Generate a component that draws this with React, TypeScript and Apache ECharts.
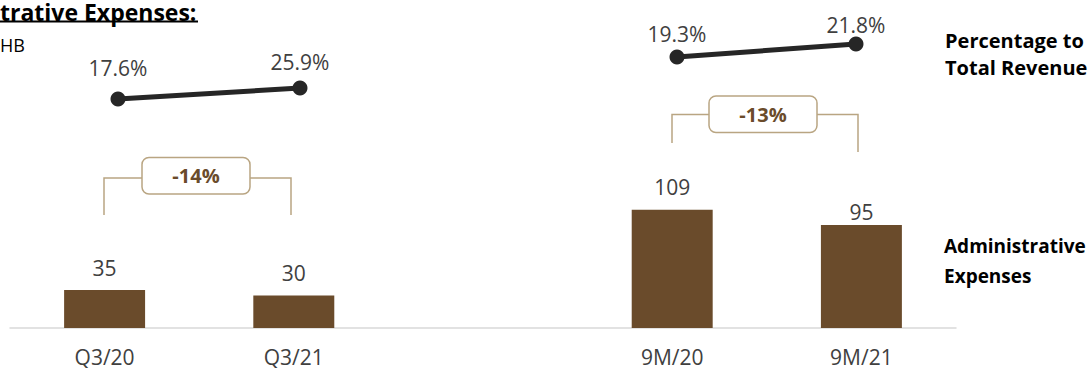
import React, { useEffect, useRef } from "react";
import * as echarts from "echarts";

const categories = ["Q3/20", "Q3/21", "", "9M/20", "9M/21"];
const expenses: (number | null)[] = [35, 30, null, 109, 95];
const q3Categories = ["Q3/20", "Q3/21"];
const q3Percent = [17.6, 25.9];
const nineMCategories = ["9M/20", "9M/21"];
const nineMPercent = [19.3, 21.8];
const changeLabels = ["-14%", "-13%"];

const FONT = "'Open Sans', sans-serif";
const BAR = "#6a4b2b";
const TAN = "#b9a582";
const GREY = "#404040";

export default function App() {
  const ref = useRef<HTMLDivElement>(null);
  useEffect(() => {
    if (!ref.current) return;
    const chart = echarts.init(ref.current, undefined, { renderer: "svg" });
    const bracket = (x1: number, x2: number, yTop: number, yL: number, yR: number, bx: number, bw: number, by: number, bh: number, label: string) => [
      { type: "polyline", shape: { points: [[x1, yL], [x1, yTop], [bx, yTop]] }, style: { stroke: TAN, lineWidth: 1.5, fill: "none" } },
      { type: "polyline", shape: { points: [[bx + bw, yTop], [x2, yTop], [x2, yR]] }, style: { stroke: TAN, lineWidth: 1.5, fill: "none" } },
      { type: "rect", shape: { x: bx, y: by, width: bw, height: bh, r: 7 }, style: { stroke: TAN, lineWidth: 1.5, fill: "#fff" } },
      { type: "text", x: bx + bw / 2, y: by + bh / 2, style: { text: label, font: `bold 20px ${FONT}`, fill: BAR, align: "center", verticalAlign: "middle" } },
    ];
    const lineLabelGap = (series: number, i: number) => (series === 0 ? [13, 8][i] : [5, 1][i]);
    const lineStyleCommon = {
      type: "line",
      symbol: "circle",
      symbolSize: 15,
      lineStyle: { color: "#262626", width: 5 },
      itemStyle: { color: "#262626" },
      label: { show: true, position: "top", formatter: "{c}%", color: GREY, fontSize: 21, fontFamily: FONT },
    };
    chart.setOption({
      animation: false,
      textStyle: { fontFamily: FONT },
      grid: [
        { left: 10, width: 946, top: 111, bottom: 40, outerBoundsMode: "none", containLabel: false },
        { left: 27, width: 364, top: 69.3, height: 39.8, outerBoundsMode: "none" },
        { left: 587.5, width: 358, top: 27.4, height: 52, outerBoundsMode: "none" },
      ],
      xAxis: [
        {
          type: "category", gridIndex: 0, data: categories,
          axisLine: { lineStyle: { color: "#d9d9d9", width: 1.5 } },
          axisTick: { show: false },
          axisLabel: { color: GREY, fontSize: 21, fontFamily: FONT, margin: 21, lineHeight: 16 },
        },
        { type: "category", gridIndex: 1, data: q3Categories, show: false },
        { type: "category", gridIndex: 2, data: nineMCategories, show: false },
      ],
      yAxis: [
        { type: "value", gridIndex: 0, min: 0, max: 200, show: false },
        { type: "value", gridIndex: 1, min: 10, max: 40, show: false },
        { type: "value", gridIndex: 2, min: 15, max: 25, show: false },
      ],
      series: [
        {
          type: "bar", xAxisIndex: 0, yAxisIndex: 0, barWidth: "42.8%",
          data: expenses.map((v, i) => ({ value: v, label: { distance: i === 4 ? 2 : 12 } })),
          itemStyle: { color: BAR },
          label: { show: true, position: "top", color: GREY, fontSize: 21, fontFamily: FONT },
        },
        {
          ...lineStyleCommon, xAxisIndex: 1, yAxisIndex: 1,
          data: q3Percent.map((v, i) => ({ value: v, label: { distance: lineLabelGap(0, i) } })),
        },
        {
          ...lineStyleCommon, xAxisIndex: 2, yAxisIndex: 2,
          data: nineMPercent.map((v, i) => ({ value: v, label: { distance: lineLabelGap(1, i) } })),
        },
      ],
      graphic: [
        { type: "text", x: 0, y: 1, style: { text: "trative Expenses:", font: `bold 23px ${FONT}`, lineHeight: 21, fill: "#000", verticalAlign: "top" } },
        { type: "line", shape: { x1: 0, y1: 21.5, x2: 198, y2: 21.5 }, style: { stroke: "#000", lineWidth: 2 } },
        { type: "text", x: 0, y: 45, style: { text: "HB", font: `18px ${FONT}`, fill: "#000", verticalAlign: "middle" } },
        { type: "text", x: 945, y: 40.5, style: { text: "Percentage to", font: `bold 20px ${FONT}`, fill: "#000", verticalAlign: "middle" } },
        { type: "text", x: 945, y: 67, style: { text: "Total Revenue", font: `bold 20px ${FONT}`, fill: "#000", verticalAlign: "middle" } },
        { type: "text", x: 944, y: 246, style: { text: "Administrative", font: `bold 19px ${FONT}`, fill: "#000", verticalAlign: "middle" } },
        { type: "text", x: 944, y: 276, style: { text: "Expenses", font: `bold 19px ${FONT}`, fill: "#000", verticalAlign: "middle" } },
        ...bracket(104, 291, 178, 215, 215, 142, 108, 157.5, 36.5, changeLabels[0]),
        ...bracket(672, 858, 114.5, 143, 152, 709, 108, 96, 36.5, changeLabels[1]),
      ],
    });
    return () => chart.dispose();
  }, []);
  return <div ref={ref} style={{ position: "fixed", left: 0, top: 0, width: 1091, height: 368, background: "#fff" }} />;
}
